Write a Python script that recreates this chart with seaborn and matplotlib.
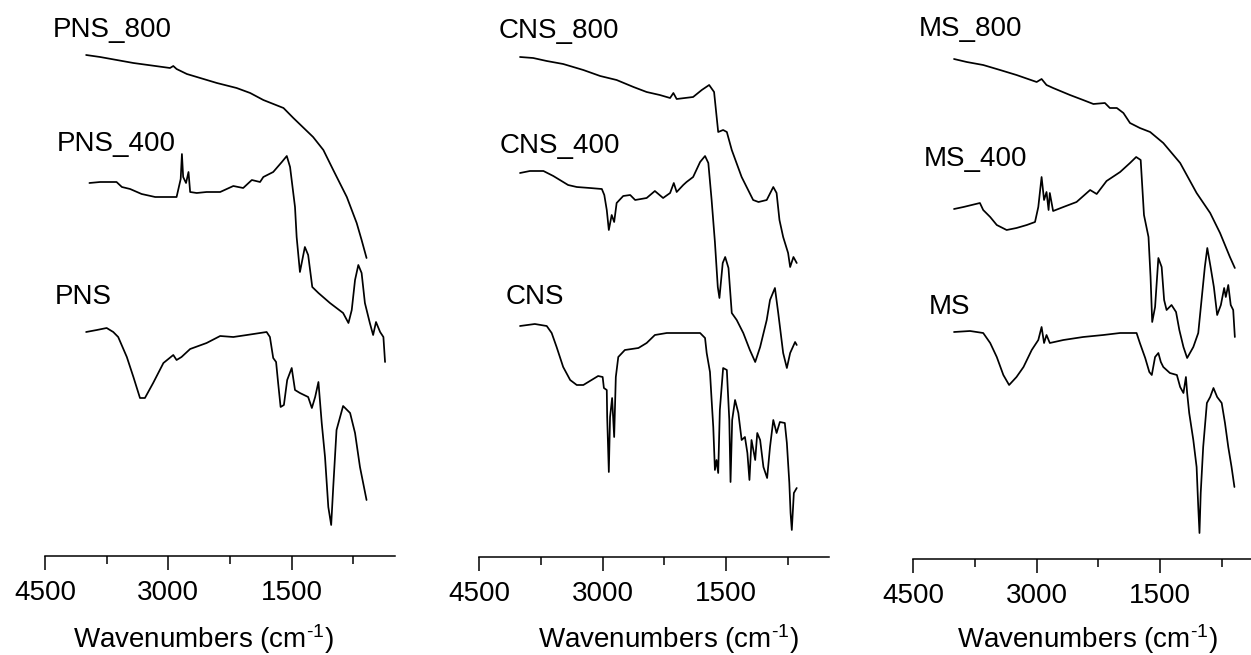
import matplotlib
matplotlib.use("Agg")
import matplotlib.pyplot as plt
from matplotlib.ticker import FixedLocator, MultipleLocator
import numpy as np
import pandas as pd
import seaborn as sns

# ---------------- data (wavenumber in cm-1, transmittance in a.u., offset stacked) ----------------
pns800_wn = [4000, 3830, 3425, 2980, 2940, 2900, 2775, 2410, 2170, 2005, 1845, 1600, 1480, 1240, 1115, 995, 830, 710, 650, 590]
pns800_t = [501, 499, 493, 488, 490, 487, 482, 473, 468, 463, 456, 448, 438, 419, 406, 386, 359, 333, 316, 298]

pns400_wn = [3960, 3830, 3710, 3630, 3565, 3465, 3325, 3160, 2900, 2875, 2850, 2835, 2820, 2785, 2755, 2735,
             2655, 2535, 2370, 2210, 2090, 1985, 1885, 1845, 1725, 1620, 1560, 1520, 1460, 1440, 1400,
             1340, 1300, 1250, 1175, 1035, 875, 810, 770, 730, 690, 650, 610, 550, 510, 475, 425, 385, 365]
pns400_t = [373, 374, 374, 374, 369, 367, 362, 359, 359, 368, 377, 402, 379, 373, 384, 364,
            363, 364, 364, 370, 368, 376, 374, 379, 384, 394, 400, 389, 349, 319, 284,
            309, 301, 269, 263, 253, 243, 233, 246, 276, 291, 283, 253, 233, 221, 234, 224, 219, 194]

pns_wn = [4000, 3870, 3750, 3670, 3610, 3505, 3425, 3345, 3285, 3185, 3060, 2940, 2900, 2840, 2735, 2535,
          2370, 2210, 2045, 1805, 1765, 1725, 1690, 1665, 1635, 1595, 1555, 1500, 1460, 1400, 1300, 1255,
          1215, 1175, 1135, 1095, 1055, 1020, 995, 955, 875, 790, 730, 670, 590]
pns_t = [224, 226, 228, 224, 219, 199, 179, 158, 158, 173, 193, 201, 196, 199, 207, 213,
         220, 219, 221, 224, 219, 198, 194, 173, 149, 151, 176, 188, 166, 163, 159, 148,
         159, 174, 133, 99, 49, 31, 69, 126, 150, 143, 123, 89, 56]

cns800_wn = [4005, 3845, 3680, 3480, 3235, 3030, 2830, 2625, 2465, 2305, 2180, 2140, 2100, 1900, 1795, 1705,
             1645, 1595, 1535, 1490, 1430, 1310, 1170, 1105, 1005, 925, 885, 850, 805, 745, 720, 680, 640]
cns800_t = [500, 499, 496, 493, 487, 481, 477, 470, 465, 462, 459, 464, 458, 460, 467, 472,
            465, 425, 427, 425, 407, 380, 357, 355, 357, 370, 364, 337, 320, 304, 290, 300, 294]

cns400_wn = [4005, 3885, 3720, 3600, 3520, 3420, 3315, 3155, 3010, 2980, 2950, 2925, 2890, 2860, 2830, 2750,
             2665, 2605, 2465, 2365, 2265, 2180, 2135, 2100, 2020, 1980, 1900, 1815, 1755, 1715, 1675, 1635,
             1600, 1580, 1540, 1510, 1470, 1430, 1370, 1290, 1210, 1145, 1085, 1005, 965, 905, 865, 805,
             760, 720, 660, 640]
cns400_t = [384, 386, 386, 381, 377, 372, 370, 369, 368, 362, 347, 327, 342, 335, 354, 361,
            362, 357, 359, 366, 359, 364, 374, 365, 372, 375, 380, 395, 401, 394, 357, 315,
            270, 259, 294, 300, 289, 244, 237, 224, 207, 195, 210, 237, 257, 269, 244, 204,
            189, 204, 215, 212]

cns_wn = [4005, 3825, 3680, 3620, 3560, 3480, 3395, 3315, 3235, 3135, 3055, 3000, 2985, 2950, 2945, 2925,
          2910, 2885, 2860, 2840, 2810, 2730, 2565, 2465, 2365, 2220, 1940, 1815, 1755, 1735, 1695, 1675,
          1655, 1635, 1615, 1595, 1575, 1535, 1490, 1460, 1445, 1425, 1390, 1350, 1310, 1270, 1240, 1215,
          1190, 1145, 1120, 1085, 1045, 1000, 965, 925, 885, 845, 785, 760, 730, 715, 700, 675, 640]
cns_t = [231, 233, 231, 224, 210, 190, 177, 172, 172, 177, 181, 180, 169, 167, 140, 85,
         140, 159, 120, 180, 200, 207, 209, 214, 222, 224, 224, 224, 219, 204, 185, 157,
         130, 87, 97, 84, 147, 189, 187, 137, 75, 137, 157, 144, 117, 120, 104, 77,
         117, 97, 124, 117, 90, 79, 110, 137, 124, 135, 134, 114, 74, 44, 27, 64, 69]

ms800_wn = [4005, 3850, 3650, 3445, 3245, 3000, 2940, 2880, 2800, 2595, 2435, 2310, 2170, 2110, 2025, 1945,
            1865, 1745, 1620, 1460, 1255, 1055, 890, 770, 650, 590]
ms800_t = [500, 497, 494, 489, 484, 477, 480, 474, 471, 464, 459, 455, 456, 451, 451, 446,
           436, 431, 427, 416, 396, 366, 346, 326, 302, 291]

ms400_wn = [4005, 3890, 3790, 3690, 3650, 3565, 3485, 3365, 3245, 3120, 3020, 2980, 2940, 2910, 2880, 2855,
            2840, 2800, 2675, 2515, 2350, 2270, 2150, 1985, 1865, 1790, 1735, 1695, 1640, 1615, 1595, 1560,
            1520, 1480, 1450, 1420, 1360, 1305, 1265, 1215, 1170, 1095, 1035, 995, 955, 925, 885, 845,
            805, 760, 720, 700, 670, 640, 610, 590]
ms400_t = [350, 352, 354, 356, 349, 342, 334, 329, 331, 334, 337, 352, 382, 359, 367, 349,
           366, 348, 352, 357, 369, 365, 378, 387, 396, 402, 399, 344, 322, 282, 237, 252,
           301, 292, 259, 249, 254, 247, 229, 212, 201, 212, 226, 259, 292, 311, 292, 272,
           244, 254, 271, 262, 274, 254, 249, 222]

ms_wn = [4005, 3810, 3730, 3650, 3565, 3485, 3405, 3335, 3245, 3160, 3060, 2980, 2940, 2910, 2880, 2840,
         2675, 2435, 2190, 1985, 1785, 1745, 1680, 1630, 1600, 1560, 1520, 1490, 1460, 1380, 1295, 1255,
         1215, 1185, 1170, 1145, 1095, 1055, 1035, 1020, 1005, 975, 930, 890, 850, 805, 750, 710, 670, 630, 595]
ms_t = [227, 228, 227, 226, 216, 202, 184, 174, 182, 192, 209, 219, 232, 216, 224, 216,
        219, 222, 224, 226, 226, 216, 201, 187, 184, 202, 206, 197, 192, 186, 184, 172,
        166, 182, 166, 146, 119, 92, 52, 26, 66, 112, 156, 162, 171, 162, 156, 136, 112, 92, 72]

panel_samples = [["PNS_800", "PNS_400", "PNS"],
                 ["CNS_800", "CNS_400", "CNS"],
                 ["MS_800", "MS_400", "MS"]]
series = {
    "PNS_800": (pns800_wn, pns800_t), "PNS_400": (pns400_wn, pns400_t), "PNS": (pns_wn, pns_t),
    "CNS_800": (cns800_wn, cns800_t), "CNS_400": (cns400_wn, cns400_t), "CNS": (cns_wn, cns_t),
    "MS_800": (ms800_wn, ms800_t), "MS_400": (ms400_wn, ms400_t), "MS": (ms_wn, ms_t),
}
major_ticks = [4500, 3000, 1500]
tick_labels = ["4500", "3000", "1500"]
xlabel_text = r"Wavenumbers (cm$^{\text{-}1}$)"

# ---------------- layout / style ----------------
sns.set_style("white")
plt.rcParams["font.family"] = ["Liberation Sans", "DejaVu Sans"]
plt.rcParams["mathtext.default"] = "regular"
plt.rcParams["mathtext.fontset"] = "custom"
plt.rcParams["mathtext.rm"] = "Liberation Sans"

W, H = 1251, 655
fig = plt.figure(figsize=(W / 100, H / 100), dpi=100)

# pixel layout of each panel: left edge (x of 4500), axis baseline y, x-centre of axis title
layout = [dict(left=45.0, base=556, xlab_cx=203.0),
          dict(left=479.3, base=557, xlab_cx=668.0),
          dict(left=913.3, base=559, xlab_cx=1087.5)]
# label anchor positions (wavenumber, height) for the sample names
label_pos = [[(4400, 519), (4358, 405), (4387, 252)],
             [(4269, 519), (4248, 404), (4175, 253)],
             [(4439, 523), (4370, 393), (4318, 245)]]

XMAX, XMIN = 4500, 250
width_px = (XMAX - XMIN) / 12.16

for p, (names, lay, lpos) in enumerate(zip(panel_samples, layout, label_pos)):
    base = lay["base"]
    ax = fig.add_axes([lay["left"] / W, (H - base) / H, width_px / W, base / H])
    frames = []
    for nm in names:
        wn, t = series[nm]
        frames.append(pd.DataFrame({"wn": wn, "t": t, "sample": nm}))
    df = pd.concat(frames, ignore_index=True)
    sns.lineplot(data=df, x="wn", y="t", units="sample", estimator=None, sort=False,
                 color="black", linewidth=1.25, ax=ax, legend=False)
    ax.set_xlim(XMAX, XMIN)
    ax.set_ylim(0, base)
    ax.set_xlabel("")
    ax.set_ylabel("")
    ax.set_yticks([])
    for s in ["left", "top", "right"]:
        ax.spines[s].set_visible(False)
    ax.spines["bottom"].set_linewidth(1.1)
    ax.spines["bottom"].set_color("black")
    ax.xaxis.set_major_locator(FixedLocator(major_ticks))
    ax.set_xticklabels(tick_labels)
    ax.xaxis.set_minor_locator(MultipleLocator(750))
    ax.tick_params(axis="x", which="major", direction="out", length=9.8, width=1.1,
                   pad=7.5, labelsize=20, colors="black", bottom=True)
    ax.tick_params(axis="x", which="minor", direction="out", length=5.5, width=1.1,
                   colors="black", bottom=True)
    for nm, (lx, ly) in zip(names, lpos):
        ax.text(lx, ly, nm, fontsize=20, ha="left", va="baseline", color="black")
    cx = (lay["xlab_cx"] - lay["left"]) / width_px
    cy = -(648.5 - base) / base
    ax.text(cx, cy, xlabel_text, transform=ax.transAxes, ha="center", va="baseline",
            fontsize=20, color="black")
    ax.set_facecolor("white")

fig.savefig("out.png", dpi=100, facecolor="white")
